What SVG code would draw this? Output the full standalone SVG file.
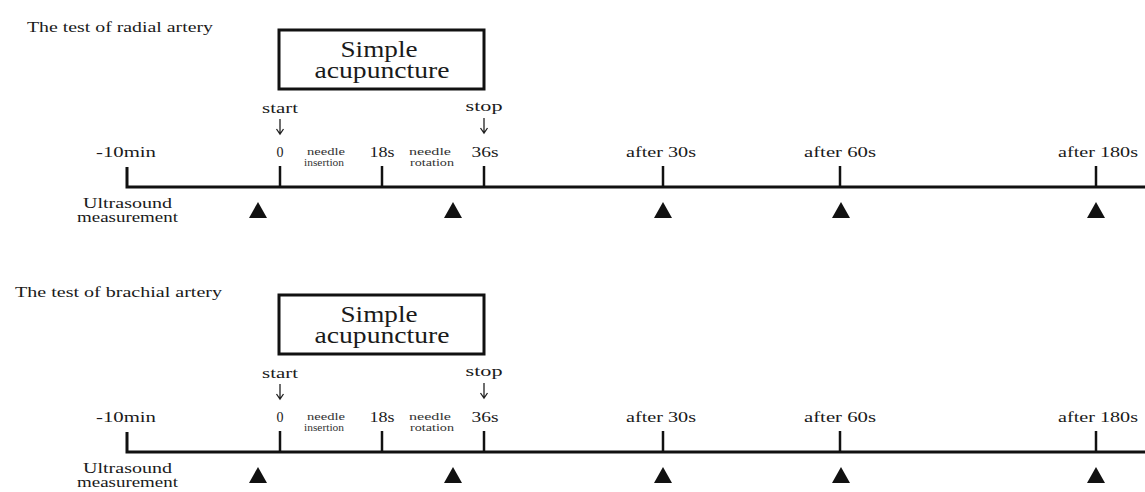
<svg xmlns="http://www.w3.org/2000/svg" width="1145" height="492" viewBox="0 0 1145 492">
<style>
text{font-family:"Liberation Serif","Times New Roman",serif;fill:#1a1a1a;text-anchor:middle}
.title{font-size:15px;text-anchor:start}
.box{fill:none;stroke:#111;stroke-width:3}
.big{font-size:23px}
.lab{font-size:14px}
.small{font-size:11px;fill:#333}
.arr{fill:none;stroke:#222;stroke-width:1.3}
.axis{stroke:#111;stroke-width:3;fill:none}
.tick{stroke:#111;stroke-width:2.5}
.tri{fill:#111}
</style>
<defs>
<g id="timeline">
  <g id="box">
    <rect class="box" x="279" y="30" width="205" height="59"/>
    <text class="big" x="379" y="57" textLength="77" lengthAdjust="spacingAndGlyphs">Simple</text>
    <text class="big" x="382" y="78" textLength="135" lengthAdjust="spacingAndGlyphs">acupuncture</text>
  </g>
  <g id="markers">
    <text class="lab" x="280" y="113" textLength="36" lengthAdjust="spacingAndGlyphs">start</text>
    <path class="arr" d="M280,119 V134 M276.5,129 L280,134 L283.5,129"/>
    <text class="lab" x="484" y="111" textLength="37" lengthAdjust="spacingAndGlyphs">stop</text>
    <path class="arr" d="M484,118 V133 M480.5,128 L484,133 L487.5,128"/>
  </g>
  <g id="labels">
    <text class="lab" x="126" y="157" textLength="60" lengthAdjust="spacingAndGlyphs">-10min</text>
    <text class="lab" x="280" y="157">0</text>
    <text class="small" x="326" y="155" textLength="38" lengthAdjust="spacingAndGlyphs">needle</text>
    <text class="small" x="324" y="166" textLength="40" lengthAdjust="spacingAndGlyphs">insertion</text>
    <text class="lab" x="382" y="157" textLength="25" lengthAdjust="spacingAndGlyphs">18s</text>
    <text class="small" x="430" y="155" textLength="42" lengthAdjust="spacingAndGlyphs">needle</text>
    <text class="small" x="432" y="166" textLength="44" lengthAdjust="spacingAndGlyphs">rotation</text>
    <text class="lab" x="485" y="157" textLength="27" lengthAdjust="spacingAndGlyphs">36s</text>
    <text class="lab" x="661" y="157" textLength="70" lengthAdjust="spacingAndGlyphs">after 30s</text>
    <text class="lab" x="840" y="157" textLength="72" lengthAdjust="spacingAndGlyphs">after 60s</text>
    <text class="lab" x="1098" y="157" textLength="80" lengthAdjust="spacingAndGlyphs">after 180s</text>
    <text class="title" x="83" y="208" textLength="89" lengthAdjust="spacingAndGlyphs">Ultrasound</text>
    <text class="title" x="77" y="222" textLength="101" lengthAdjust="spacingAndGlyphs">measurement</text>
  </g>
  <g id="axis">
    <path class="axis" d="M127,167 V187 H1145"/>
    <line class="tick" x1="280" y1="166" x2="280" y2="187"/>
    <line class="tick" x1="382" y1="166" x2="382" y2="187"/>
    <line class="tick" x1="484" y1="166" x2="484" y2="187"/>
    <line class="tick" x1="663" y1="166" x2="663" y2="187"/>
    <line class="tick" x1="840" y1="166" x2="840" y2="187"/>
    <line class="tick" x1="1096" y1="166" x2="1096" y2="187"/>
  </g>
  <g id="measures">
    <polygon class="tri" points="249,218 267,218 258,202"/>
    <polygon class="tri" points="444,218 462,218 453,202"/>
    <polygon class="tri" points="654,218 672,218 663,202"/>
    <polygon class="tri" points="832,218 850,218 841,202"/>
    <polygon class="tri" points="1087,218 1105,218 1096,202"/>
  </g>
</g>
</defs>
<rect width="1145" height="492" fill="#fff"/>
<g id="radial">
  <text class="title" x="27" y="32" textLength="186" lengthAdjust="spacingAndGlyphs">The test of radial artery</text>
  <use href="#timeline"/>
</g>
<g id="brachial">
  <text class="title" x="15" y="297" textLength="207" lengthAdjust="spacingAndGlyphs">The test of brachial artery</text>
  <use href="#timeline" transform="translate(0,265)"/>
</g>
</svg>
